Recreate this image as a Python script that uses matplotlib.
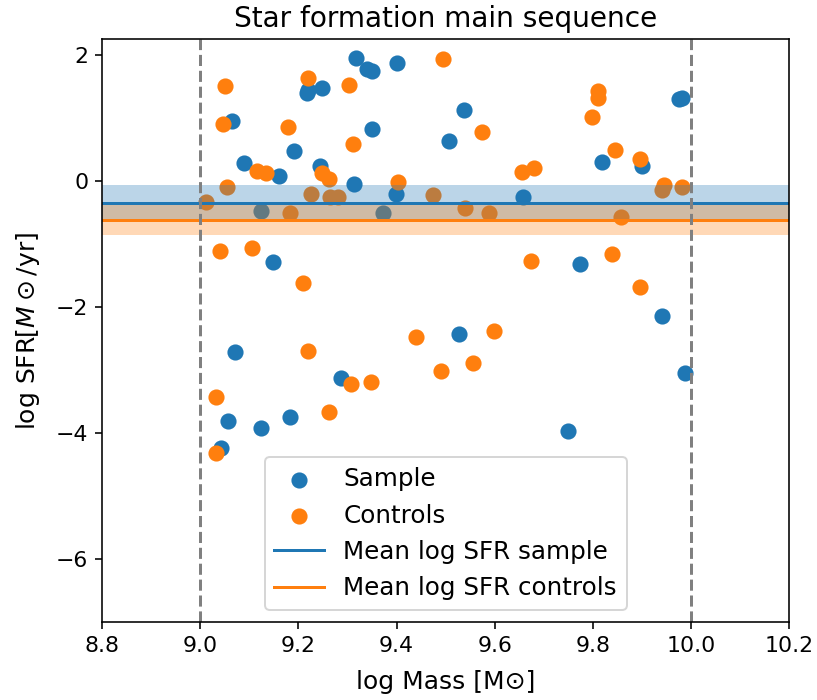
import numpy as np
import matplotlib
matplotlib.use('Agg')
import matplotlib.pyplot as plt

# sample galaxies (log Mass, log SFR)
sample_mass = [9.064, 9.217, 9.220, 9.249, 9.318, 9.339, 9.349, 9.400, 9.349, 9.190,
               9.089, 9.161, 9.244, 9.314, 9.398, 9.123, 9.373, 9.538, 9.507, 9.818,
               9.657, 9.975, 9.982, 9.901, 9.149, 9.071, 9.286, 9.056, 9.123, 9.183,
               9.042, 9.774, 9.528, 9.750, 9.940, 9.987]
sample_sfr = [0.96, 1.40, 1.45, 1.47, 1.95, 1.77, 1.75, 1.87, 0.83, 0.48,
              0.28, 0.08, 0.24, -0.04, -0.21, -0.47, -0.51, 1.13, 0.64, 0.30,
              -0.26, 1.30, 1.32, 0.24, -1.29, -2.72, -3.12, -3.80, -3.91, -3.74,
              -4.23, -1.31, -2.43, -3.96, -2.14, -3.04]

# control galaxies
control_mass = [9.050, 9.047, 9.219, 9.303, 9.179, 9.312, 9.116, 9.134, 9.247, 9.263,
                9.402, 9.054, 9.011, 9.225, 9.264, 9.281, 9.183, 9.494, 9.574, 9.810,
                9.810, 9.798, 9.845, 9.656, 9.679, 9.475, 9.540, 9.589, 9.896, 9.945,
                9.940, 9.981, 9.858, 9.040, 9.105, 9.209, 9.220, 9.308, 9.347, 9.032,
                9.263, 9.032, 9.673, 9.838, 9.440, 9.599, 9.491, 9.555, 9.896]
control_sfr = [1.51, 0.90, 1.63, 1.53, 0.85, 0.58, 0.16, 0.12, 0.13, 0.04,
               -0.02, -0.10, -0.33, -0.21, -0.25, -0.25, -0.51, 1.93, 0.78, 1.43,
               1.32, 1.02, 0.50, 0.14, 0.20, -0.22, -0.42, -0.50, 0.35, -0.06,
               -0.15, -0.10, -0.57, -1.11, -1.07, -1.61, -2.69, -3.22, -3.19, -3.42,
               -3.66, -4.31, -1.27, -1.16, -2.47, -2.38, -3.02, -2.89, -1.68]

# mean log SFR and its spread
mean_sample = -0.35
err_sample = 0.28
mean_control = -0.62
err_control = 0.24

fig = plt.figure(figsize=(817 / 144, 700 / 144), dpi=144)
ax = fig.add_axes([0.125, 0.111, 0.841, 0.833])

ax.scatter(sample_mass, sample_sfr, s=50, color='C0', label='Sample')
ax.scatter(control_mass, control_sfr, s=50, color='C1', label='Controls')

ax.axhline(mean_sample, color='C0', label='Mean log SFR sample')
ax.axhspan(mean_sample - err_sample, mean_sample + err_sample, color='C0', alpha=0.3, lw=0)
ax.axhline(mean_control, color='C1', label='Mean log SFR controls')
ax.axhspan(mean_control - err_control, mean_control + err_control, color='C1', alpha=0.3, lw=0)

ax.axvline(9.0, color='gray', ls='--')
ax.axvline(10.0, color='gray', ls='--')

ax.set_xlim(8.8, 10.2)
ax.set_ylim(-7, 2.25)
ax.tick_params(labelsize=11)
ax.set_xlabel('log Mass [M⊙]', fontsize=12.5, labelpad=7)
ax.set_ylabel(r'log SFR[$M\odot$/yr]', fontsize=12.5, labelpad=7)
ax.set_title('Star formation main sequence', fontsize=14)
ax.legend(loc='lower center', fontsize=12.3)

fig.savefig('out.png', dpi=144)
